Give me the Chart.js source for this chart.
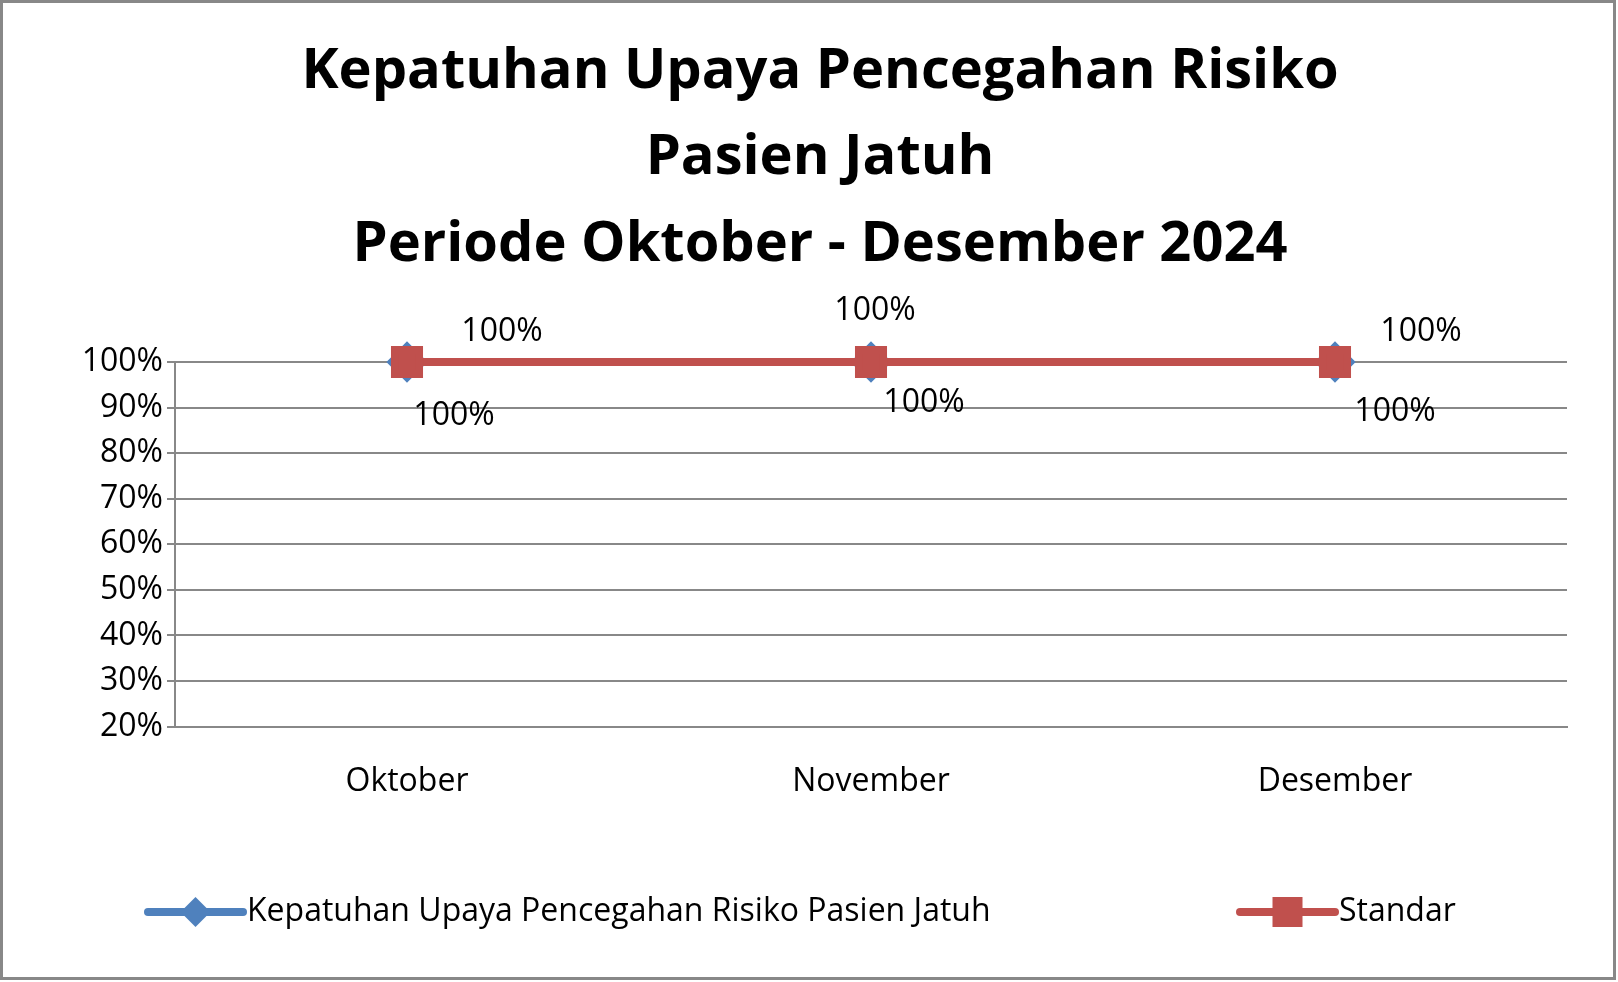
<!DOCTYPE html>
<html><head><meta charset="utf-8">
<script src="https://cdn.jsdelivr.net/npm/chart.js@4"></script>
<style>html,body{margin:0;padding:0;background:#fff}#w{width:1618px;height:982px}</style>
</head><body><div id="w"><canvas id="c"></canvas></div>
<script>
const categories = ["Oktober","November","Desember"];
const kepatuhan = [100,100,100];
const standar = [100,100,100];
const yTicks = [20,30,40,50,60,70,80,90,100];
const titleLines = ["Kepatuhan Upaya Pencegahan Risiko","Pasien Jatuh","Periode Oktober - Desember 2024"];
const seriesNames = ["Kepatuhan Upaya Pencegahan Risiko Pasien Jatuh","Standar"];
const FONT = "'Open Sans', Lato, sans-serif";

const labelOffsets = [
  [[47,54],[53,41],[60,50]],
  [[95,-30],[4,-51],[86,-30]]
];

const extras = {
  id:'extras',
  afterDatasetsDraw(chart){
    const ctx = chart.ctx;
    ctx.save();
    ctx.font = "32px " + FONT;
    ctx.fillStyle = "#000";
    ctx.textAlign = "center"; ctx.textBaseline = "middle";
    chart.data.datasets.forEach((ds,di)=>{
      chart.getDatasetMeta(di).data.forEach((pt,i)=>{
        const o = labelOffsets[di][i];
        ctx.fillText(ds.data[i] + "%", pt.x+o[0], pt.y+o[1]);
      });
    });
    // legend
    const ly = 912;
    const items = [{x:148, w:95, ds:chart.data.datasets[0], diamond:true},{x:1240, w:95, ds:chart.data.datasets[1], diamond:false}];
    ctx.textAlign = "left";
    items.forEach((it,k)=>{
      ctx.strokeStyle = it.ds.borderColor; ctx.lineWidth = 8; ctx.lineCap='round';
      ctx.beginPath(); ctx.moveTo(it.x, ly); ctx.lineTo(it.x+it.w, ly); ctx.stroke();
      ctx.fillStyle = it.ds.borderColor;
      const cx = it.x+it.w/2;
      if(it.diamond){
        ctx.beginPath(); ctx.moveTo(cx,ly-15); ctx.lineTo(cx+15,ly); ctx.lineTo(cx,ly+15); ctx.lineTo(cx-15,ly); ctx.closePath(); ctx.fill();
      } else {
        ctx.fillRect(cx-15, ly-15, 30, 30);
      }
      ctx.fillStyle = "#000"; ctx.font = "32px " + FONT;
      ctx.fillText(seriesNames[k], it.x+it.w+4, ly);
    });
    // title
    ctx.textAlign = "center"; ctx.font = "bold 56px " + FONT;
    const ty = [72,158,245];
    titleLines.forEach((t,i)=>ctx.fillText(t, 820, ty[i]));
    // border
    ctx.strokeStyle = "#888"; ctx.lineWidth = 3;
    ctx.strokeRect(1.5,1.5,1613,977);
    ctx.restore();
  }
};

new Chart(document.getElementById('c'), {
  type:'line',
  data:{labels:categories, datasets:[
    {label:seriesNames[0], data:kepatuhan, borderColor:'#4F81BD', backgroundColor:'#4F81BD', borderWidth:8, pointStyle:'rectRot', pointRadius:15, order:1, clip:false},
    {label:seriesNames[1], data:standar, borderColor:'#C0504D', backgroundColor:'#C0504D', borderWidth:8, pointStyle:'rect', pointRadius:17, order:0, clip:false}
  ]},
  options:{
    responsive:true, maintainAspectRatio:false, animation:false,
    layout:{padding:{top:362, right:51, bottom:145, left:0}},
    plugins:{legend:{display:false}, title:{display:false}, tooltip:{enabled:false}},
    scales:{
      x:{offset:true, grid:{display:false, drawTicks:false}, border:{color:'#888', width:2},
         ticks:{color:'#000', font:{family:FONT, size:32}, padding:36}},
      y:{min:20, max:100, afterBuildTicks(s){s.ticks = yTicks.map(v=>({value:v}));},
         afterFit(s){s.width = 175;},
         grid:{color:'#888', lineWidth:2, drawTicks:true, tickLength:8},
         border:{color:'#888', width:2},
         ticks:{color:'#000', font:{family:FONT, size:32}, padding:4, callback:v=>v+'%'}}
    }
  },
  plugins:[extras]
});
</script></body></html>
